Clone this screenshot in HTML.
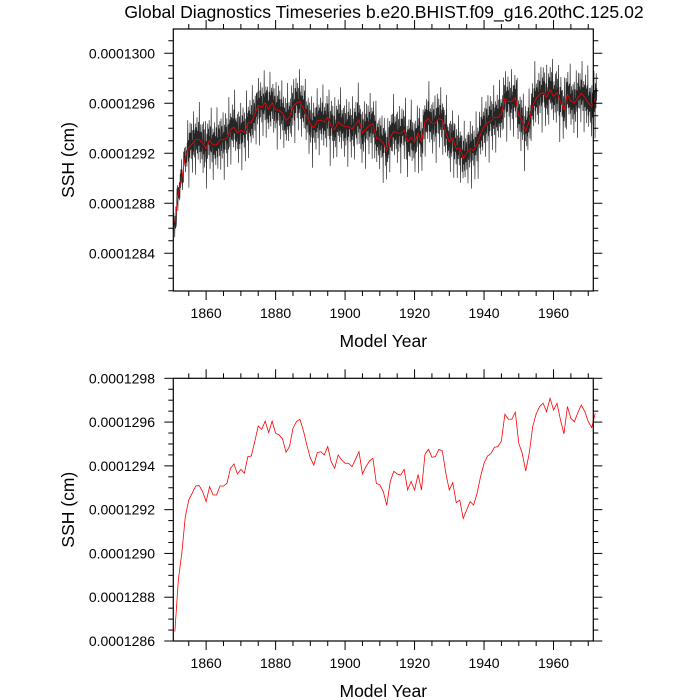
<!DOCTYPE html>
<html><head><meta charset="utf-8"><style>
html,body{margin:0;padding:0;background:#fff;}
svg{display:block;font-family:"Liberation Sans",sans-serif;}
</style></head><body>
<svg id="chart" width="700" height="700" viewBox="0 0 700 700">
<text x="384" y="18" text-anchor="middle" font-size="17.6">Global Diagnostics Timeseries b.e20.BHIST.f09_g16.20thC.125.02</text>
<g id="top"></g>
<g id="bot"></g>
</svg>
<script>
const startYear = 1851;
const annualSSH = [1286.43,1288.79,1290.01,1291.68,1292.44,1292.75,1293.08,1293.10,1292.82,1292.37,
1293.05,1292.67,1292.67,1293.08,1293.08,1293.20,1293.89,1294.09,1293.63,1293.84,
1293.66,1294.42,1294.45,1295.11,1295.82,1295.67,1296.04,1295.52,1296.04,1295.49,
1295.41,1295.23,1294.62,1294.88,1295.72,1296.02,1296.13,1295.61,1294.95,1294.35,
1294.04,1294.60,1294.65,1294.50,1294.88,1294.19,1293.89,1294.50,1294.27,1294.12,
1294.12,1293.96,1294.30,1294.65,1293.63,1293.96,1294.22,1294.35,1293.20,1293.13,
1292.82,1292.20,1293.28,1293.75,1293.63,1293.58,1293.84,1292.90,1293.29,1292.90,
1293.61,1292.90,1294.53,1294.76,1294.39,1294.42,1294.76,1294.68,1293.66,1292.90,
1293.23,1292.32,1292.44,1291.60,1291.99,1292.37,1292.21,1292.75,1293.51,1294.12,
1294.45,1294.57,1294.85,1294.88,1295.14,1296.36,1296.13,1296.13,1296.45,1295.03,
1294.57,1293.77,1294.57,1295.79,1296.37,1296.71,1296.86,1296.48,1297.09,1296.55,
1296.86,1296.10,1295.46,1296.71,1296.17,1296.02,1296.43,1296.78,1296.48,1296.02,
1295.75,1296.40];
const monthlyAnom = [0.9,-1.2,1.6,-0.4,0.3,-2.3,1.1,0.2,-0.9,2.6,-0.6,0.5,-1.4,0.8,-0.2,1.3,-2.8,0.4,1.0,-0.8,
0.1,1.8,-1.1,-0.3,0.7,-1.6,1.4,0.0,-0.5,3.0,-1.0,0.6,-1.9,0.3,1.2,-0.7,0.9,-0.1,-1.3,1.5,
-0.4,0.2,-2.4,1.7,-0.9,0.5,1.1,-1.5,0.4,-0.2,2.2,-0.6,-1.1,0.6,-3.2,1.2,0.3,-0.8,2.0,-0.2,0.8];
const topTicks = [1284,1288,1292,1296,1300];
const botTicks = [1286,1288,1290,1292,1294,1296,1298];
const xTicks = [1860,1880,1900,1920,1940,1960];

const NS="http://www.w3.org/2000/svg";
function mk(parent,tag,attrs){const e=document.createElementNS(NS,tag);for(const k in attrs)e.setAttribute(k,attrs[k]);parent.appendChild(e);return e;}
const X0=173.3,X1=593.3,XMIN=1850.55,XMAX=1971.45;
function xs(yr){return X0+(yr-XMIN)/(XMAX-XMIN)*(X1-X0);}
function lab(v){return "0.000"+String(Math.round(v));}

function panel(g,Y0,Y1,ymin,ymax,yt,ymin_step,withBlack){
  const ys=v=>Y1-(v-ymin)/(ymax-ymin)*(Y1-Y0);
  if(withBlack){
    let d="";
    for(let i=0;i<annualSSH.length;i++){for(let m=0;m<12;m++){
      const k=i*12+m;const v=annualSSH[i]+monthlyAnom[k%monthlyAnom.length]*(i<4?0.5:1);
      const yr=startYear+i-0.5+(m+0.5)/12;
      d+=(k?"L":"M")+xs(yr).toFixed(2)+","+ys(v).toFixed(2);}}
    const p=mk(g,"path",{d:d,fill:"none",stroke:"#000","stroke-width":"0.7","stroke-opacity":"0.85"});
    
    
  }
  let d2="";
  annualSSH.forEach((v,i)=>{d2+=(i?"L":"M")+xs(startYear+i).toFixed(2)+","+ys(v).toFixed(2);});
  const r=mk(g,"path",{d:d2,fill:"none",stroke:"#f00","stroke-width":"0.8"});
  
  
  const f=mk(g,"rect",{x:X0,y:Y0,width:X1-X0,height:Y1-Y0,fill:"none",stroke:"#000","stroke-width":"1.2"});
  
  
  for(let v=ymin_step[0];v<=ymax+1e-9;v+=ymin_step[1]){
    const y=ys(v);const maj=yt.some(t=>Math.abs(t-v)<1e-6);const L=maj?9:5;
    mk(g,"line",{x1:X0-L,x2:X0,y1:y,y2:y,stroke:"#000","stroke-width":"1"});
    mk(g,"line",{x1:X1,x2:X1+L,y1:y,y2:y,stroke:"#000","stroke-width":"1"});
  }
  yt.forEach(v=>{const t=mk(g,"text",{x:155,y:ys(v)+5,"text-anchor":"end","font-size":"14"});t.textContent=lab(v);
    
    });
  for(let yr=1855;yr<=1970;yr+=5){const x=xs(yr);const maj=yr%20===0;const L=maj?9:5;
    mk(g,"line",{x1:x,x2:x,y1:Y1,y2:Y1+L,stroke:"#000","stroke-width":"1"});
    mk(g,"line",{x1:x,x2:x,y1:Y0-L,y2:Y0,stroke:"#000","stroke-width":"1"});}
  xTicks.forEach(yr=>{const t=mk(g,"text",{x:xs(yr),y:Y1+27,"text-anchor":"middle","font-size":"14"});t.textContent=yr;
    
    });
  const xt=mk(g,"text",{x:(X0+X1)/2,y:Y1+56,"text-anchor":"middle","font-size":"17.5"});xt.textContent="Model Year";
  
  
  const cy=(Y0+Y1)/2;
  const yl=mk(g,"text",{x:74,y:cy,"text-anchor":"middle","font-size":"17.5",transform:"rotate(-90 74 "+cy+")"});yl.textContent="SSH (cm)";
  
  
}
panel(document.getElementById("top"),29,291,1280.98,1301.94,topTicks,[1281,1],true);
panel(document.getElementById("bot"),378.3,641,1286,1298,botTicks,[1286,0.5],false);
</script>
</body></html>
